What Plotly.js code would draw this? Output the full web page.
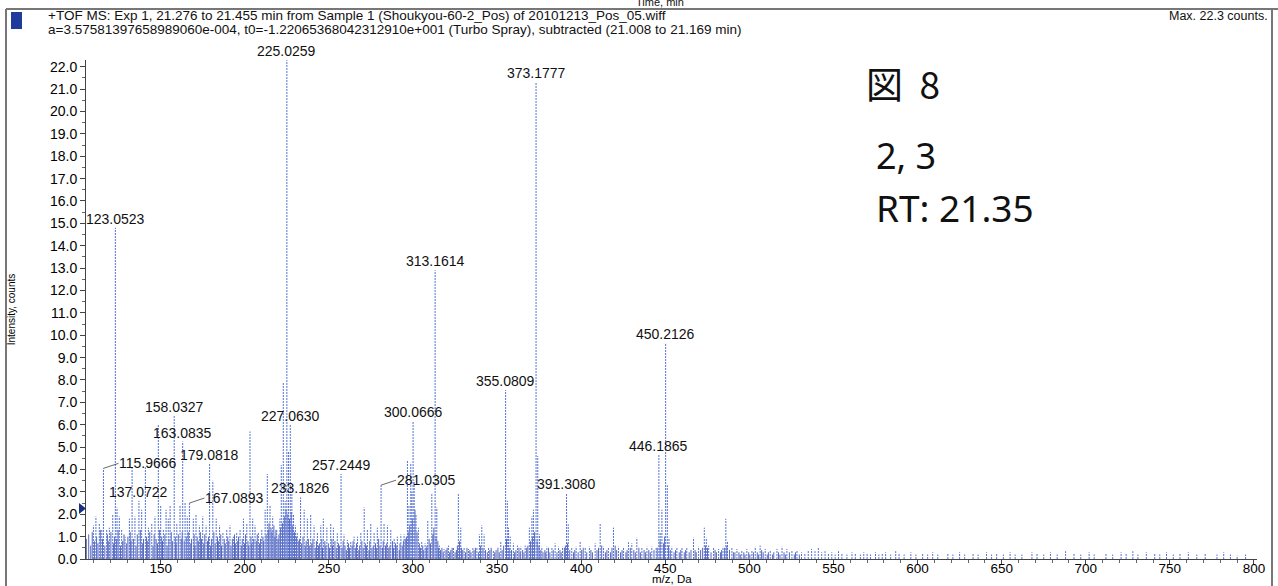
<!DOCTYPE html>
<html>
<head>
<meta charset="utf-8">
<script src="https://cdn.plot.ly/plotly-3.0.1.min.js"></script>
<style>html,body{margin:0;padding:0;background:#fff;}#chart{width:1278px;height:586px;}</style>
</head>
<body>
<div id="chart"></div>
<script>
// ---------- DATA ----------
// Main (labelled and prominent) peaks: m/z and intensity (counts)
const peakMz = [110.0,111.5,113.5,115.0,115.9666,117.9,119.5,121.5,123.0523,124.05,125.4,126.8,128.8,131.4,133.0,134.7,137.0722,138.7,140.9,142.7,144.7,146.6,148.6,150.0,151.6,153.2,154.5,155.6,158.0327,159.6,161.5,163.0835,164.5,165.8,167.0893,169.4,171.0,173.0,175.0,177.0,179.0818,181.0,183.0,185.0,187.0,189.3,191.2,193.2,195.2,197.2,199.2,201.2,203.1,204.7,206.1,208.1,210.1,212.1,213.4,215.0,216.6,219.0,220.9,221.7,222.9,224.0,225.0259,226.03,227.063,228.0,229.0,230.1,231.2,233.1826,235.3,237.2,239.2,241.2,243.2,245.2,246.7,248.8,251.1,252.7,255.0,257.2449,259.0,261.0,263.0,265.0,267.0,269.0,271.0,272.9,274.9,276.9,278.8,281.0305,282.8,284.8,286.8,288.8,290.7,292.8,294.7,296.7,297.6,298.7,299.3,300.0666,300.7,301.8,303.2,305.2,307.2,308.8,311.2,313.1614,314.16,315.7,318.5,321.1,324.1,327.0,328.4,330.4,333.0,335.6,338.0,339.5,340.9,342.3,344.9,347.8,352.2,355.0809,356.08,356.8,357.8,359.7,362.1,364.1,366.7,369.2,370.7,371.6,373.1777,374.18,375.18,376.6,379.6,382.6,384.5,386.5,388.9,391.308,392.31,394.4,397.0,399.4,402.4,404.9,408.3,411.3,413.3,416.2,419.2,422.2,425.2,428.1,430.1,433.1,436.1,439.1,442.0,444.6,446.1865,447.0,448.0,450.2126,451.21,452.2,453.9,456.9,459.9,462.8,466.8,469.8,473.2,474.4,475.8,478.7,481.7,484.3,486.0,487.0,489.6,492.6,495.5,498.5,501.5,503.5,506.4,509.4,512.4,516.4,519.4,522.3,525.3,528.3,531,533,535,537,539,541,543,545,547,549,551,553,555,558,561,563,566,568,570,572,575,577,579,581,584,587,589,592,596,599,603,606,609,612,618,621,625,628,633,636,641,644,647,651,655,658,662,668,671,675,679,683,688,693,697,702,705,712,716,721,724,728,731,736,741,744,748,752,756,761,766,771,778,782,786,790,795];
const peakInt = [1.5,1.9,1.6,1.3,4.05,1.3,1.4,2.0,14.8,2.3,1.9,1.3,1.0,1.8,4.1,1.9,2.6,2.2,4.1,1.4,1.6,1.9,6.0,2.4,1.3,2.2,1.8,2.4,6.4,1.6,2.4,5.25,2.5,1.9,2.5,1.8,2.0,1.5,1.9,1.5,4.25,3.5,1.8,1.5,1.2,1.3,1.5,1.0,1.2,1.3,1.8,1.6,5.7,1.8,1.5,1.2,1.3,2.2,3.8,2.4,1.9,1.3,1.8,4.2,7.9,2.6,22.3,4.8,6.0,3.0,2.0,1.5,1.2,2.75,2.2,1.8,2.0,1.5,1.2,1.5,1.8,1.4,1.6,1.4,1.15,3.8,1.1,0.85,0.8,1.0,1.0,1.2,2.3,1.3,1.6,1.2,1.4,3.3,1.6,1.5,1.3,0.9,1.0,1.1,1.1,4.4,2.4,4.3,3.0,6.15,3.5,2.0,1.4,0.8,0.7,1.7,2.9,12.9,2.3,0.6,0.45,0.6,0.5,2.9,1.4,0.5,0.45,0.5,0.5,1.1,1.5,1.1,0.5,0.4,0.8,7.55,2.6,1.4,1.0,0.7,0.6,0.55,0.6,1.4,1.9,2.2,21.3,4.6,1.1,0.55,0.55,0.5,0.7,0.55,0.55,2.95,1.55,0.5,0.55,0.8,0.5,0.55,0.7,1.6,0.55,0.5,1.4,0.55,0.5,0.75,0.7,0.95,0.5,0.55,0.55,0.5,4.65,1.2,2.2,9.64,3.3,0.95,0.55,0.5,0.5,0.5,0.95,0.55,1.4,0.95,0.6,0.5,0.45,0.55,1.8,0.8,0.5,0.45,0.4,0.45,0.4,0.55,0.6,0.45,0.4,0.45,0.55,0.45,0.4,0.4,0.3,0.25,0.4,0.45,0.35,0.5,0.3,0.35,0.25,0.3,0.2,0.35,0.25,0.2,0.3,0.25,0.2,0.3,0.25,0.2,0.3,0.2,0.25,0.3,0.2,0.35,0.25,0.2,0.3,0.2,0.25,0.2,0.3,0.2,0.25,0.2,0.3,0.2,0.25,0.2,0.3,0.2,0.25,0.2,0.3,0.2,0.2,0.3,0.25,0.2,0.3,0.2,0.35,0.25,0.2,0.3,0.2,0.25,0.2,0.3,0.25,0.35,0.2,0.3,0.25,0.2,0.3,0.2,0.25,0.3,0.2,0.25,0.2,0.3,0.2,0.15,0.2];

// Low-level background ions (dense noise under the main peaks)
const noiseMz = [105.8,107.2,108.4,109.3,110.6,111.9,112.7,114.1,115.4,116.8,118.3,119.1,120.4,121.9,122.6,123.8,124.7,126.1,127.4,128.2,129.6,130.5,131.9,132.4,133.8,135.3,136.1,137.9,139.1,139.8,141.6,142.3,143.5,145.4,146.1,147.3,148.1,149.4,150.6,151.1,152.5,153.8,154.9,156.3,157.1,158.7,159.2,160.5,162.2,162.8,164.0,165.2,166.4,167.6,168.3,169.9,170.4,171.7,172.4,173.6,174.3,175.6,176.2,177.8,178.4,179.7,180.3,181.6,182.4,183.8,184.3,185.7,186.2,187.8,188.4,189.9,190.5,191.8,192.6,193.9,194.4,195.8,196.3,197.9,198.5,199.8,200.4,201.9,202.4,203.7,204.2,205.3,206.8,207.4,208.7,209.4,210.8,211.3,212.7,213.9,214.4,215.6,216.2,217.3,217.9,218.5,219.7,220.3,221.2,222.4,223.5,224.5,225.6,226.6,227.6,228.5,229.6,230.7,231.8,232.5,233.8,234.6,235.9,236.5,237.8,238.6,239.8,240.5,241.9,242.6,243.8,244.5,245.8,246.2,247.6,248.2,249.7,250.4,251.8,252.2,253.6,254.4,255.7,256.4,257.8,258.5,259.6,260.4,261.7,262.3,263.8,264.4,265.7,266.4,267.8,268.3,269.6,270.4,271.7,272.4,273.8,274.3,275.6,276.4,277.7,278.4,279.6,280.4,281.8,282.3,283.7,284.4,285.6,286.3,287.8,288.4,289.6,290.4,291.8,292.3,293.6,294.3,295.4,296.1,297.2,298.1,299.6,301.2,302.4,303.8,304.5,305.8,306.4,307.8,308.3,309.6,310.4,311.8,312.4,313.7,314.8,315.3,316.4,317.2,318.0,319.6,320.3,321.8,322.5,323.3,325.0,325.8,326.4,327.7,328.9,329.6,331.2,332.1,333.8,334.5,336.3,337.1,338.9,340.2,341.6,343.1,344.2,345.7,346.5,348.6,349.4,350.5,351.3,353.0,353.9,355.6,357.2,358.6,360.4,361.2,363.0,363.8,365.2,366.0,367.6,368.3,369.9,371.0,372.3,373.8,374.9,376.0,377.3,378.4,379.0,380.6,381.4,383.4,385.6,387.4,388.1,390.0,390.6,391.9,393.2,395.4,396.2,398.2,400.3,401.2,403.3,405.8,406.7,409.4,410.3,412.2,414.4,415.3,417.4,418.3,420.2,421.1,423.4,424.3,426.6,427.3,429.2,431.3,432.2,434.3,435.2,437.4,438.3,440.2,441.1,443.3,445.2,446.9,448.9,449.6,451.9,453.0,455.2,456.1,458.3,459.2,461.3,462.1,464.2,465.3,467.7,468.4,471.0,472.2,473.9,475.1,477.2,479.6,480.4,482.8,483.5,485.3,486.6,488.2,490.5,491.4,493.8,494.6,496.7,497.4,499.6,500.3,502.4,504.7,505.5,507.3,508.2,510.6,511.3,513.7,514.5,517.3,518.2,520.6,521.4,523.8,526.7,527.4,529.7];
const noiseInt = [0.9,1.1,0.6,1.2,0.8,1.0,0.7,1.3,0.9,0.6,1.1,0.8,1.2,0.7,1.0,0.9,1.3,0.6,0.8,1.1,0.7,1.0,1.2,0.8,0.9,0.6,1.1,1.3,0.7,0.9,1.0,0.8,1.2,0.6,1.1,0.9,0.7,1.3,1.0,0.8,1.1,0.6,0.9,1.2,0.8,1.0,0.7,1.1,0.9,1.2,0.8,1.0,1.2,0.7,0.9,1.1,0.6,1.0,0.8,1.2,0.9,0.7,1.1,0.8,1.0,0.6,0.9,1.2,0.7,1.0,0.8,1.1,0.6,0.9,0.7,1.0,0.8,0.6,0.9,1.1,0.7,0.8,1.0,0.6,0.9,0.7,1.1,0.8,0.6,1.0,0.7,0.9,0.8,1.1,0.7,0.9,1.0,0.8,1.1,1.3,1.6,1.4,1.2,1.5,1.0,1.3,0.9,1.1,1.4,1.6,1.9,2.2,2.0,1.8,2.1,1.5,1.2,1.0,0.8,0.9,0.7,1.0,0.6,0.8,0.9,0.6,0.7,0.9,0.5,0.8,0.6,0.7,0.9,0.5,0.8,0.6,0.7,0.5,0.9,0.6,0.8,0.5,0.7,0.6,0.5,0.8,0.6,0.4,0.7,0.5,0.6,0.8,0.5,0.7,0.4,0.6,0.8,0.5,0.7,0.6,0.4,0.8,0.5,0.6,0.7,0.5,0.9,0.6,0.5,0.8,0.6,0.7,0.5,0.6,0.8,0.5,0.7,0.6,0.4,0.7,0.6,0.8,0.9,1.0,1.2,1.5,1.8,2.2,1.2,0.7,0.5,0.6,0.4,0.5,0.6,0.9,0.7,1.1,1.4,1.0,0.8,0.5,0.4,0.5,0.3,0.4,0.5,0.3,0.4,0.5,0.3,0.4,0.6,0.8,0.5,0.4,0.3,0.5,0.4,0.3,0.4,0.5,0.3,0.6,0.5,0.4,0.3,0.4,0.5,0.3,0.4,0.5,0.3,0.4,0.6,0.9,0.5,0.4,0.3,0.4,0.5,0.3,0.4,0.3,0.5,0.6,0.8,1.0,1.2,0.8,0.6,0.4,0.3,0.4,0.3,0.5,0.3,0.4,0.3,0.4,0.3,0.5,0.6,0.7,0.4,0.3,0.4,0.3,0.4,0.5,0.3,0.4,0.3,0.4,0.5,0.6,0.3,0.4,0.3,0.5,0.6,0.4,0.3,0.4,0.3,0.4,0.5,0.4,0.3,0.5,0.3,0.4,0.3,0.4,0.3,0.4,0.5,0.8,0.7,1.0,0.6,0.4,0.3,0.4,0.3,0.4,0.3,0.4,0.3,0.4,0.4,0.3,0.4,0.5,0.6,0.5,0.3,0.4,0.3,0.3,0.4,0.5,0.6,0.4,0.3,0.3,0.3,0.2,0.3,0.2,0.3,0.2,0.3,0.3,0.2,0.4,0.3,0.2,0.3,0.2,0.3,0.3,0.2,0.3,0.2,0.3,0.2,0.3,0.2];

// Labelled peaks
const labelMz  = [225.0259,373.1777,123.0523,313.1614,450.2126,355.0809,158.0327,227.0630,300.0666,163.0835,446.1865,179.0818,257.2449,391.3080,137.0722,233.1826,115.9666,167.0893,281.0305];
const labelInt = [22.3,21.3,14.8,12.9,9.64,7.55,6.4,6.0,6.15,5.25,4.65,4.25,3.8,2.95,2.6,2.75,4.05,2.5,3.3];
const leaderLabels = [115.9666,167.0893,281.0305];

const xTicks = [150,200,250,300,350,400,450,500,550,600,650,700,750,800];

const headerLine1 = "+TOF MS: Exp 1, 21.276 to 21.455 min from Sample 1 (Shoukyou-60-2_Pos) of 20101213_Pos_05.wiff";
const headerLine2 = "a=3.57581397658989060e-004, t0=-1.22065368042312910e+001 (Turbo Spray), subtracted (21.008 to 21.169 min)";
const maxText = "Max. 22.3 counts.";
const xTitle = "m/z, Da";
const yTitle = "Intensity, counts";

// ---------- BUILD ----------
function sticks(mz, inten){
  const x=[], y=[];
  for(let i=0;i<mz.length;i++){ x.push(mz[i],mz[i],null); y.push(0,inten[i],null); }
  return {x,y};
}
const nS = sticks(noiseMz, noiseInt);
const pS = sticks(peakMz, peakInt);

const L=86, R=1257, T=60, B=559;
const px = v => (v-L)/(R-L);
const py = v => (B-v)/(B-T);
const FONT = "Liberation Sans, Arial, sans-serif";

const traces = [
  {type:'scatter', mode:'lines', x:nS.x, y:nS.y, connectgaps:false, hoverinfo:'skip',
   line:{color:'rgba(45,65,170,0.8)', width:1}},
  {type:'scatter', mode:'lines', x:pS.x, y:pS.y, connectgaps:false, hoverinfo:'skip',
   line:{color:'rgb(85,115,215)', width:1, dash:'2px,1px'}}
];

const annotations = [];
labelMz.forEach((m,i)=>{
  const lead = leaderLabels.includes(m);
  if(lead){
    annotations.push({x:m, y:labelInt[i], xref:'x', yref:'y', text:m.toFixed(4), showarrow:true,
      arrowhead:0, arrowwidth:0.8, arrowcolor:'#444', ax:15, ay:-5, xanchor:'left', yanchor:'middle',
      standoff:0, borderpad:0, font:{family:FONT, size:14, color:'#111'}});
  } else {
    annotations.push({x:m, y:labelInt[i], xref:'x', yref:'y', text:m.toFixed(4), showarrow:false,
      xanchor:'center', yanchor:'bottom', yshift:-1, font:{family:FONT, size:14, color:'#111'}});
  }
});
annotations.push(
  {xref:'paper', yref:'paper', x:px(46), y:py(16), xanchor:'left', yanchor:'middle', showarrow:false, text:headerLine1, font:{family:FONT,size:13.5,color:'#111'}},
  {xref:'paper', yref:'paper', x:px(46), y:py(29.5), xanchor:'left', yanchor:'middle', showarrow:false, text:headerLine2, font:{family:FONT,size:13.5,color:'#111'}},
  {xref:'paper', yref:'paper', x:px(1270), y:py(16), xanchor:'right', yanchor:'middle', showarrow:false, text:maxText, font:{family:FONT,size:12.5,color:'#111'}},
  {xref:'paper', yref:'paper', x:px(660), y:py(2), xanchor:'center', yanchor:'middle', showarrow:false, text:'Time, min', font:{family:FONT,size:11,color:'#111'}},
  {xref:'paper', yref:'paper', x:0.5, y:py(586), xanchor:'center', yanchor:'bottom', showarrow:false, borderpad:0, text:xTitle, font:{family:FONT,size:11.5,color:'#000'}},
  {xref:'paper', yref:'paper', x:px(864), y:py(83), xanchor:'left', yanchor:'middle', showarrow:false, text:'図&nbsp;&nbsp;8', font:{family:'Noto Sans CJK JP, Noto Sans',size:37,color:'#111'}},
  {xref:'paper', yref:'paper', x:px(874), y:py(155), xanchor:'left', yanchor:'middle', showarrow:false, text:'2, 3', font:{family:'Noto Sans',size:36,color:'#111'}},
  {xref:'paper', yref:'paper', x:px(874), y:py(208), xanchor:'left', yanchor:'middle', showarrow:false, text:'RT: 21.35', font:{family:'Noto Sans',size:37,color:'#111'}}
);

const shapes = [
  {type:'line', xref:'paper', yref:'paper', x0:px(6), x1:px(1278), y0:py(9), y1:py(9), line:{color:'#777', width:2}},
  {type:'line', xref:'paper', yref:'paper', x0:px(6), x1:px(6), y0:py(9), y1:py(600), line:{color:'#777', width:2}},
  {type:'line', xref:'paper', yref:'paper', x0:px(1272), x1:px(1272), y0:py(9), y1:py(600), line:{color:'#777', width:2}},
  {type:'rect', xref:'paper', yref:'paper', x0:px(11), x1:px(22), y0:py(29), y1:py(12), line:{width:0}, fillcolor:'#1f3c9c'},
  {type:'path', xref:'paper', yref:'paper',
   path:`M ${px(79)} ${py(503)} L ${px(79)} ${py(514)} L ${px(86)} ${py(508.5)} Z`, line:{width:0}, fillcolor:'#1a2f80'}
];

const layout = {
  width:1278, height:586,
  margin:{l:L, r:1278-R, t:T, b:586-B, autoexpand:false},
  paper_bgcolor:'#fff', plot_bgcolor:'#fff',
  showlegend:false,
  xaxis:{range:[105.6,801.8], tickvals:xTicks, ticks:'outside', ticklen:4, tickcolor:'#444',
    showline:true, linecolor:'#444', linewidth:1, showgrid:false, zeroline:false,
    minor:{dtick:10, tick0:0, ticks:'outside', ticklen:3, tickcolor:'#666', showgrid:false},
    tickfont:{family:FONT, size:13.5, color:'#000'}, ticklabelstandoff:-7, automargin:false},
  yaxis:{range:[0,22.3], dtick:1, tick0:0, tickformat:'.1f', ticks:'outside', ticklen:5, tickcolor:'#444',
    showline:true, linecolor:'#444', linewidth:1, showgrid:false, zeroline:false,
    minor:{dtick:0.5, ticks:'outside', ticklen:3, tickcolor:'#666', showgrid:false},
    tickfont:{family:FONT, size:14, color:'#000'}, automargin:false,
    title:{text:yTitle, standoff:32, font:{family:FONT, size:10, color:'#000'}}},
  annotations, shapes
};

Plotly.newPlot('chart', traces, layout, {displayModeBar:false, staticPlot:true});
</script>
</body>
</html>
